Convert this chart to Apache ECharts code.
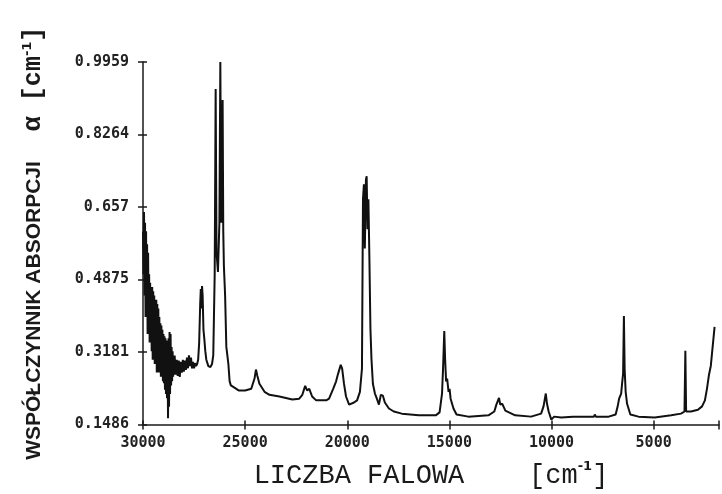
<!DOCTYPE html>
<html><head><meta charset="utf-8">
<script src="https://cdn.jsdelivr.net/npm/echarts@6/dist/echarts.min.js"></script>
<style>html,body{margin:0;padding:0;background:#fff}#c{width:722px;height:494px}</style>
</head><body><div id="c"></div>
<script>
// [wavenumber cm^-1, absorption coefficient alpha cm^-1]
const noisyEdge = [
[30000,0.60],[29975,0.50],[29950,0.645],[29925,0.45],[29900,0.62],[29875,0.40],[29850,0.60],[29825,0.42],
[29800,0.57],[29775,0.36],[29750,0.55],[29725,0.38],[29700,0.50],[29675,0.34],[29650,0.48],[29625,0.36],
[29600,0.47],[29575,0.32],[29550,0.47],[29525,0.30],[29500,0.46],[29475,0.33],[29450,0.45],[29425,0.29],
[29400,0.44],[29375,0.31],[29350,0.44],[29325,0.27],[29300,0.43],[29275,0.29],[29250,0.42],[29225,0.27],
[29200,0.40],[29175,0.28],[29150,0.385],[29125,0.26],[29100,0.38],[29075,0.27],[29050,0.37],[29025,0.25],
[29000,0.36],[28975,0.245],[28950,0.355],[28925,0.23],[28900,0.35],[28875,0.22],[28850,0.345],[28825,0.21],
[28800,0.34],[28775,0.163],[28750,0.35],[28725,0.19],[28700,0.365],[28675,0.22],[28650,0.36],[28625,0.24],
[28600,0.33],[28575,0.25],[28550,0.32],[28525,0.26],[28500,0.31],[28475,0.265],[28450,0.31],[28400,0.265],
[28350,0.30],[28300,0.262],[28250,0.298],[28200,0.26],[28150,0.295],[28100,0.27],[28050,0.30],[28000,0.272],
[27950,0.298],[27900,0.276],[27850,0.305],[27800,0.28],[27750,0.31],[27700,0.285],[27650,0.305],[27600,0.28],
[27550,0.295],[27500,0.28],[27450,0.292],[27400,0.285],[27350,0.29]
];
const uvPeaks = [
[27300,0.30],[27250,0.34],[27200,0.43],[27170,0.465],[27140,0.42],[27110,0.472],[27080,0.45],[27040,0.37],
[27000,0.35],[26950,0.32],[26900,0.30],[26800,0.285],[26700,0.283],[26620,0.29],[26560,0.31],[26490,0.50],
[26443,0.933],[26400,0.55],[26330,0.505],[26260,0.62],[26214,0.996],[26170,0.62],[26130,0.70],[26102,0.907],
[26070,0.60],[26040,0.52],[25980,0.45],[25920,0.33],[25870,0.31],[25820,0.29],[25760,0.25],[25700,0.24],
[25600,0.237],[25300,0.228],[25000,0.228],[24700,0.232]
];
const visibleBands = [
[24640,0.232],[24540,0.256],[24470,0.277],[24400,0.262],[24300,0.244],[24050,0.225],[23810,0.218],[23320,0.214],
[22690,0.207],[22350,0.209],[22200,0.218],[22060,0.239],[21960,0.228],[21860,0.232],[21720,0.214],[21520,0.205],
[21030,0.205],[20890,0.209],[20690,0.232],[20550,0.249],[20450,0.267],[20320,0.288],[20250,0.279],[20160,0.244],
[20060,0.214],[19910,0.195],[19670,0.200],[19520,0.205],[19380,0.225],[19280,0.279],[19230,0.675],[19185,0.71],
[19140,0.56],[19085,0.721],[19050,0.729],[19010,0.605],[18965,0.675],[18915,0.535],[18865,0.372],[18815,0.302],
[18745,0.244],[18645,0.221],[18550,0.209],[18450,0.195],[18355,0.218],[18255,0.216],[18160,0.200],[17960,0.186],
[17720,0.179],[17330,0.174],[16500,0.170],[15670,0.170],[15480,0.177],[15360,0.221],[15310,0.279],[15250,0.367],
[15210,0.302],[15160,0.249],[15110,0.256],[15040,0.225],[14990,0.232],[14940,0.209],[14800,0.186],[14650,0.172]
];
const nirBands = [
[14070,0.167],[13090,0.170],[12800,0.179],[12700,0.195],[12570,0.211],[12510,0.195],[12410,0.197],[12260,0.181],
[11780,0.170],[11000,0.167],[10510,0.174],[10390,0.191],[10280,0.221],[10220,0.197],[10140,0.179],[10010,0.160],
[9870,0.167],[9530,0.165],[8950,0.167],[7920,0.167],[7880,0.172],[7830,0.167],[7200,0.167],[6860,0.172],
[6760,0.191],[6690,0.209],[6590,0.221],[6545,0.244],[6495,0.267],[6456,0.402],[6420,0.279],[6370,0.225],
[6300,0.197],[6140,0.172],[5740,0.167],[4950,0.165],[4140,0.170],[3660,0.174],[3490,0.179],[3447,0.321],
[3410,0.179],[3170,0.179],[2830,0.183],[2630,0.191],[2490,0.205],[2390,0.232],[2290,0.265],[2200,0.286],
[2120,0.326],[2016,0.377]
];
const yTickLabels = ['0.1486','0.3181','0.4875','0.657','0.8264','0.9959'];
const xTickLabels = ['30000','25000','20000','15000','10000','5000'];

const Y_MIN = parseFloat(yTickLabels[0]);
const Y_MAX = parseFloat(yTickLabels[yTickLabels.length - 1]);
const Y_STEP = (Y_MAX - Y_MIN) / (yTickLabels.length - 1);
const X_MIN = 1800, X_MAX = 30000;

const data = [].concat(noisyEdge, uvPeaks, visibleBands, nirBands);

const chart = echarts.init(document.getElementById('c'), null, {renderer: 'canvas'});
const axisCol = '#1a1a1a';
const labelFont = {fontFamily: 'DejaVu Sans Mono', fontWeight: 'bold', fontSize: 15, color: '#222'};

const baseX = {
  type: 'value', inverse: true, min: X_MIN, max: X_MAX, gridIndex: 0,
  splitLine: {show: false}
};
const baseY = {
  type: 'value', min: Y_MIN, max: Y_MAX, interval: Y_STEP, gridIndex: 0,
  splitLine: {show: false}
};

chart.setOption({
  animation: false,
  backgroundColor: '#ffffff',
  grid: {left: 143, right: 0, top: 62, bottom: 68},
  xAxis: [
    Object.assign({}, baseX, {
      position: 'bottom',
      axisLine: {show: true, lineStyle: {color: axisCol, width: 1.5}},
      axisTick: {show: true, length: 5, lineStyle: {color: axisCol, width: 1.5}},
      axisLabel: Object.assign({margin: 11, formatter: v => {
        const s = String(Math.round(v));
        return xTickLabels.indexOf(s) >= 0 ? s : '';
      }}, labelFont),
      name: '{t|LICZBA FALOWA    [cm}{s|-1}{t|]}',
      nameLocation: 'middle', nameGap: 36,
      nameTextStyle: {rich: {
        t: {fontFamily: 'Liberation Mono', fontSize: 27, color: '#1a1a1a', lineHeight: 30},
        s: {fontFamily: 'DejaVu Sans', fontWeight: 'bold', fontSize: 13, color: '#1a1a1a', verticalAlign: 'top', lineHeight: 12}
      }}
    }),
    Object.assign({}, baseX, {
      position: 'bottom',
      axisLine: {show: false},
      axisTick: {show: true, inside: true, length: 4, lineStyle: {color: axisCol, width: 1.5}},
      axisLabel: {show: false}
    })
  ],
  yAxis: [
    Object.assign({}, baseY, {
      position: 'left',
      axisLine: {show: true, lineStyle: {color: axisCol, width: 1.5}},
      axisTick: {show: true, length: 5, lineStyle: {color: axisCol, width: 1.5}},
      axisLabel: Object.assign({margin: 14, formatter: v => {
        const i = Math.round((v - Y_MIN) / Y_STEP);
        return yTickLabels[i] !== undefined ? yTickLabels[i] : '';
      }}, labelFont),
      name: '{a|WSPÓŁCZYNNIK ABSORPCJI}{b|  α [cm}{s|-1}{b|]}',
      nameLocation: 'middle', nameRotate: 90, nameGap: 96,
      nameTextStyle: {rich: {
        a: {fontFamily: 'Liberation Sans', fontWeight: 'bold', fontSize: 21, color: '#1a1a1a', lineHeight: 26},
        b: {fontFamily: 'Liberation Mono', fontWeight: 'bold', fontSize: 25, color: '#1a1a1a', lineHeight: 26},
        s: {fontFamily: 'DejaVu Sans', fontWeight: 'bold', fontSize: 13, color: '#1a1a1a', verticalAlign: 'top', lineHeight: 12}
      }}
    }),
    Object.assign({}, baseY, {
      position: 'left',
      axisLine: {show: false},
      axisTick: {show: true, inside: true, length: 4, lineStyle: {color: axisCol, width: 1.5}},
      axisLabel: {show: false}
    })
  ],
  series: [{
    type: 'line', xAxisIndex: 0, yAxisIndex: 0,
    data: data, showSymbol: false, symbol: 'none',
    lineStyle: {color: '#111', width: 2},
    clip: true
  }]
});
</script></body></html>
